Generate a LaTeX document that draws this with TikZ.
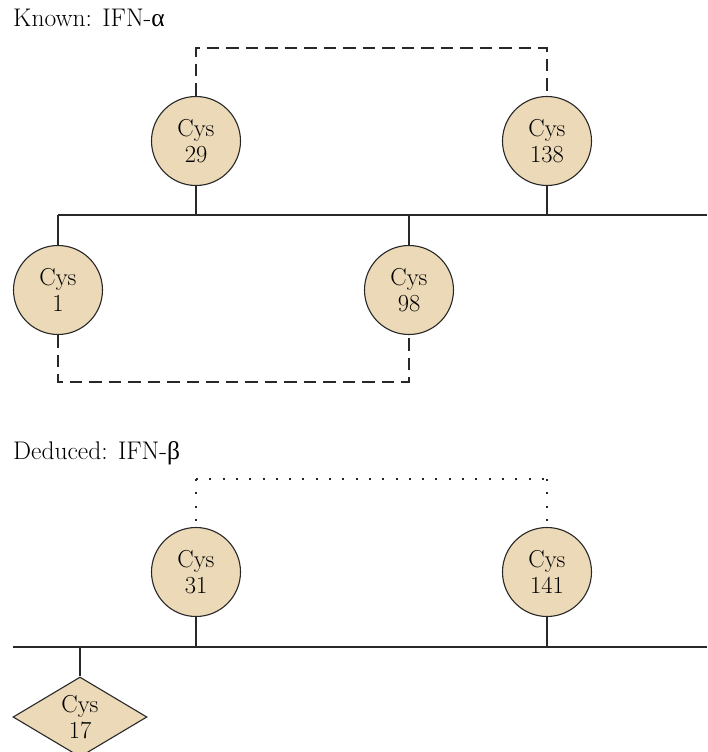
\documentclass[tikz,border=0pt]{standalone}
\usepackage{fontspec}
\newfontfamily\greekfont{Liberation Serif}
\usetikzlibrary{shapes.geometric}
\definecolor{cysfill}{RGB}{235,217,184}
\definecolor{linegray}{RGB}{40,40,40}
\tikzset{
  cys/.style={circle, draw=linegray, fill=cysfill, line width=1.1pt, minimum size=89pt, inner sep=0pt, align=center, font=\fontsize{24.5}{26}\selectfont},
  cysdia/.style={diamond, draw=linegray, fill=cysfill, line width=1.1pt, minimum width=134pt, minimum height=80pt, aspect=1.675, inner sep=0pt, align=center, font=\fontsize{24.5}{26}\selectfont},
  bond/.style={draw=linegray, line width=1.2pt},
  ssdash/.style={draw=linegray, line width=1.2pt, dash pattern=on 12.5pt off 7pt},
  ssdot/.style={draw=linegray, line width=2pt, dash pattern=on 2pt off 11.3pt},
  title/.style={anchor=base west, inner sep=0pt, font=\fontsize{25.5}{25}\selectfont},
}
\begin{document}
\begin{tikzpicture}[x=1pt,y=-1pt]
\useasboundingbox (0,0) rectangle (707,752);
% titles
\node[title] (t1) at (13,27) {Known: IFN-{\greekfont α}};
\node[title] (t2) at (13,459) {Deduced: IFN-{\greekfont β}};
% IFN-alpha
\coordinate (chainA) at (58,215);
\coordinate (chainAend) at (707,215);
\draw[bond] (chainA) -- (chainAend);
\node[cys] (c29) at (196,141) {Cys\\29};
\node[cys] (c138) at (547,141) {Cys\\138};
\node[cys] (c1) at (58,290) {Cys\\1};
\node[cys] (c98) at (409,290) {Cys\\98};
\draw[bond] (c29.south) -- (c29.south |- chainA);
\draw[bond] (c138.south) -- (c138.south |- chainA);
\draw[bond] (c1.north) -- (chainA);
\draw[bond] (c98.north) -- (c98.north |- chainA);
\coordinate (topA) at (0,48);
\coordinate (botA) at (0,382);
\draw[ssdash] (c29.north) -- (c29.north |- topA) -- (c138.north |- topA) -- (c138.north);
\draw[ssdash] (c1.south) -- (c1.south |- botA) -- (c98.south |- botA) -- (c98.south);
% IFN-beta
\coordinate (chainB) at (13,647);
\coordinate (chainBend) at (707,647);
\draw[bond] (chainB) -- (chainBend);
\node[cys] (c31) at (196,572) {Cys\\31};
\node[cys] (c141) at (547,572) {Cys\\141};
\node[cysdia] (c17) at (80,717) {Cys\\17};
\draw[bond] (c31.south) -- (c31.south |- chainB);
\draw[bond] (c141.south) -- (c141.south |- chainB);
\draw[bond] (c17.north) -- (c17.north |- chainB);
\coordinate (topB) at (0,479);
\draw[ssdot] (c31.north |- topB) -- (c141.north |- topB);
\draw[ssdot] (c31.north |- topB) -- ([yshift=-3pt]c31.north);
\draw[ssdot] (c141.north |- topB) -- ([yshift=-3pt]c141.north);
\end{tikzpicture}
\end{document}
